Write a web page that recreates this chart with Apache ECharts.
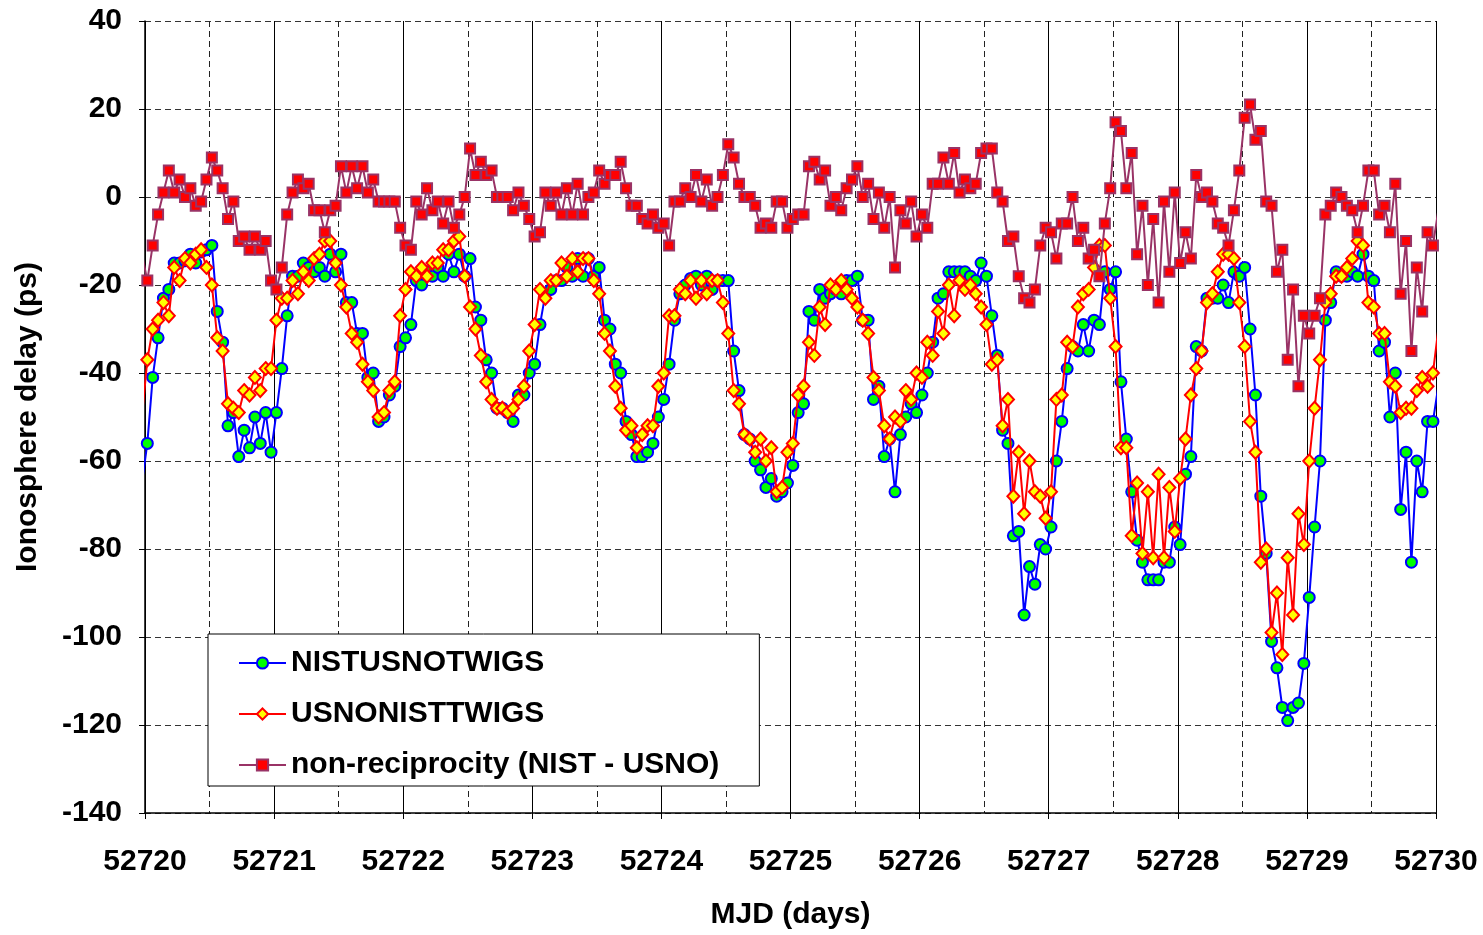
<!DOCTYPE html>
<html>
<head>
<meta charset="utf-8">
<title>Ionosphere delay, TWSTFT NIST-USNO</title>
<script src="https://cdn.jsdelivr.net/npm/echarts@6/dist/echarts.min.js"></script>
<style>
  html, body { margin: 0; padding: 0; background: #fff; }
  #chart { width: 1483px; height: 935px; }
</style>
</head>
<body>
<div id="chart"></div>
<script>
// Hourly samples; first sample lies just before MJD 52720.
const T0 = 52719.9763;      // MJD of first sample
const STEP = 1 / 24;        // one hour in days

const seriesNames = ['NISTUSNOTWIGS', 'USNONISTTWIGS', 'non-reciprocity (NIST - USNO)'];

// NIST -> USNO ionosphere delay (ps), one row per day
const nistUsno = [
  -65,
  -56, -41, -32, -23, -21, -15, -15, -14.5, -13, -15, -12.5, -12, -11, -26, -33, -52, -49, -59, -53, -57, -50, -56, -49, -58,
  -49, -39, -27, -18, -18, -15, -16, -17, -16, -18, -13, -17, -13, -24, -24, -31, -31, -41, -40, -51, -50, -45, -43, -34,
  -32, -29, -19, -20, -17, -18, -16, -18, -13, -17, -13, -18, -14, -25, -28, -37, -40, -48, -48, -49, -51, -45, -45, -40,
  -38, -29, -22, -21, -19, -19, -16, -18, -14, -18, -14, -18, -16, -28, -30, -38, -40, -51, -54, -59, -59, -58, -56, -50,
  -46, -38, -28, -22, -20, -18.5, -18, -20, -18, -21, -19, -19, -19, -35, -44, -54, -55, -60, -62, -66, -64, -68, -67, -65,
  -61, -49, -47, -26, -28, -21, -23, -22, -21, -22, -19, -19, -18, -28, -28, -46, -43, -59, -55, -67, -54, -50, -47, -49,
  -45, -40, -33, -23, -22, -17, -17, -17, -17, -18, -19, -15, -18, -27, -36, -53, -56, -77, -76, -95, -84, -88, -79, -80,
  -75, -60, -51, -39, -34, -35, -29, -35, -28, -29, -17, -21, -17, -42, -55, -67, -78, -83, -87, -87, -87, -83, -83, -75,
  -79, -63, -59, -34, -35, -23, -23, -23, -20, -24, -17, -18, -16, -30, -45, -68, -81, -101, -107, -116, -119, -116, -115, -106,
  -91, -75, -60, -28, -24, -17, -18, -18, -17, -18, -13, -18, -19, -35, -33, -50, -40, -71, -58, -83, -60, -67, -51, -51,
  -43
];

// USNO -> NIST ionosphere delay (ps)
const usnoNist = [
  -50,
  -37, -30, -28, -24, -27, -16, -19, -14, -15, -13, -12, -16, -20, -32, -35, -47, -48, -49, -44, -45, -41, -44, -39, -39,
  -28, -23, -23, -19, -22, -17, -19, -14, -13, -10, -10, -15, -20, -25, -31, -33, -38, -42, -44, -50, -49, -44, -42, -27,
  -21, -17, -18, -16, -18, -15, -15, -12, -12, -10, -9, -18, -25, -30, -36, -42, -46, -48, -48, -49, -48, -46, -43, -35,
  -29, -21, -23, -19, -19, -15, -18, -14, -17, -14, -14, -19, -22, -31, -35, -43, -48, -53, -52, -57, -54, -52, -52, -43,
  -40, -27, -27, -21, -22, -19, -23, -19, -22, -19, -19, -24, -31, -44, -47, -54, -55, -58, -55, -60, -57, -67, -66, -58,
  -56, -45, -43, -33, -36, -25, -29, -20, -21, -19, -21, -23, -25, -28, -31, -41, -44, -52, -55, -50, -51, -44, -46, -40,
  -41, -33, -36, -26, -31, -20, -27, -19, -21, -20, -22, -25, -29, -38, -37, -52, -46, -68, -58, -72, -60, -67, -68, -73,
  -67, -46, -45, -33, -34, -25, -22, -21, -16, -11, -11, -23, -34, -57, -57, -77, -65, -81, -67, -82, -63, -82, -66, -76,
  -64, -55, -45, -39, -35, -24, -22, -17, -13, -13, -14, -24, -34, -51, -58, -83, -80, -99, -90, -104, -82, -95, -72, -79,
  -60, -48, -37, -24, -22, -18, -18, -16, -14, -10, -11, -24, -25, -31, -31, -42, -43, -49, -48, -48, -44, -41, -43, -40,
  -30
];

// Non-reciprocity NIST - USNO (ps)
const nonReciprocity = [
  -13,
  -19, -11, -4, 1, 6, 1, 4, 0, 2, -2, -1, 4, 9, 6, 2, -5, -1, -10, -9, -12, -9, -12, -10, -19,
  -21, -16, -4, 1, 4, 2, 3, -3, -3, -8, -3, -2, 7, 1, 7, 2, 7, 1, 4, -1, -1, -1, -1, -7,
  -11, -12, -1, -4, 2, -3, -1, -6, -1, -7, -4, 0, 11, 5, 8, 5, 6, 0, 0, 0, -3, 1, -2, -5,
  -9, -8, 1, -2, 1, -4, 2, -4, 3, -4, 0, 1, 6, 3, 5, 5, 8, 2, -2, -2, -5, -6, -4, -7,
  -6, -11, -1, -1, 2, 0, 5, -1, 4, -2, 0, 5, 12, 9, 3, 0, 0, -2, -7, -6, -7, -1, -1, -7,
  -5, -4, -4, 7, 8, 4, 6, -2, 0, -3, 2, 4, 7, 0, 3, -5, 1, -7, 0, -16, -3, -6, -1, -9,
  -4, -7, 3, 3, 9, 3, 10, 1, 4, 2, 3, 10, 11, 11, 1, -1, -10, -9, -18, -23, -24, -21, -11, -7,
  -8, -14, -6, -6, 0, -10, -7, -14, -12, -18, -6, 2, 17, 15, 2, 10, -13, -2, -20, -5, -24, -1, -17, 1,
  -15, -8, -14, 5, 0, 1, -1, -6, -7, -11, -3, 6, 18, 21, 13, 15, -1, -2, -17, -12, -37, -21, -43, -27,
  -31, -27, -23, -4, -2, 1, 0, -2, -3, -8, -2, 6, 6, -4, -2, -8, 3, -22, -10, -35, -16, -26, -8, -11,
  -3
];

const xTicks = { min: 52720, max: 52730, step: 1 };
const yTicks = { min: -140, max: 40, step: 20 };

function withTime(values) {
  return values.map((v, i) => [T0 + i * STEP, v]);
}

const FONT = '"Liberation Sans", Arial, sans-serif';
const FS = 30;
const chart = echarts.init(document.getElementById('chart'), null, { renderer: 'canvas' });

chart.setOption({
  animation: false,
  backgroundColor: '#ffffff',
  grid: { left: 145, right: 47, top: 21, bottom: 121, containLabel: false },
  xAxis: {
    type: 'value',
    min: xTicks.min, max: xTicks.max, interval: xTicks.step,
    name: 'MJD (days)', nameLocation: 'middle', nameGap: 87,
    nameTextStyle: { fontFamily: FONT, fontSize: FS, fontWeight: 'bold', color: '#000' },
    axisLine: { onZero: false, lineStyle: { color: '#000', width: 1.5 } },
    axisTick: { show: true, length: 6, lineStyle: { color: '#000' } },
    axisLabel: { fontFamily: FONT, fontSize: FS, fontWeight: 'bold', color: '#000', margin: 34,
                 formatter: v => String(v) },
    splitLine: { show: true, lineStyle: { color: '#000', width: 1, type: 'solid' } },
    minorTick: { show: false, splitNumber: 2 },
    minorSplitLine: { show: true, lineStyle: { color: '#222', width: 1, type: [6, 4] } }
  },
  yAxis: {
    type: 'value',
    min: yTicks.min, max: yTicks.max, interval: yTicks.step,
    name: 'Ionosphere delay (ps)', nameLocation: 'middle', nameGap: 102,
    nameTextStyle: { fontFamily: FONT, fontSize: FS, fontWeight: 'bold', color: '#000' },
    axisLine: { show: true, onZero: false, lineStyle: { color: '#000', width: 1.5 } },
    axisTick: { show: true, length: 6, lineStyle: { color: '#000' } },
    axisLabel: { fontFamily: FONT, fontSize: FS, fontWeight: 'bold', color: '#000', margin: 23 },
    splitLine: { show: true, lineStyle: { color: '#333', width: 1, type: [6, 4] } }
  },
  legend: {
    orient: 'vertical',
    left: 208, top: 634,
    backgroundColor: '#fff', borderColor: '#000', borderWidth: 1,
    padding: [14, 40, 6, 30],
    itemGap: 21, itemWidth: 47, itemHeight: 14,
    textStyle: { fontFamily: FONT, fontSize: FS, fontWeight: 'bold', color: '#000' },
    data: seriesNames
  },
  series: [
    {
      name: seriesNames[0], type: 'line', data: withTime(nistUsno),
      symbol: 'circle', symbolSize: 11,
      lineStyle: { color: '#0000ff', width: 2 },
      itemStyle: { color: '#00ff00', borderColor: '#0000ff', borderWidth: 2 },
      clip: true, z: 2
    },
    {
      name: seriesNames[1], type: 'line', data: withTime(usnoNist),
      symbol: 'diamond', symbolSize: [12, 13],
      lineStyle: { color: '#ff0000', width: 2 },
      itemStyle: { color: '#ffff00', borderColor: '#ff0000', borderWidth: 2 },
      clip: true, z: 3
    },
    {
      name: seriesNames[2], type: 'line', data: withTime(nonReciprocity),
      symbol: 'rect', symbolSize: 10,
      lineStyle: { color: '#993366', width: 2 },
      itemStyle: { color: '#ff0000', borderColor: '#993366', borderWidth: 2 },
      clip: true, z: 4
    }
  ]
});
</script>
</body>
</html>
